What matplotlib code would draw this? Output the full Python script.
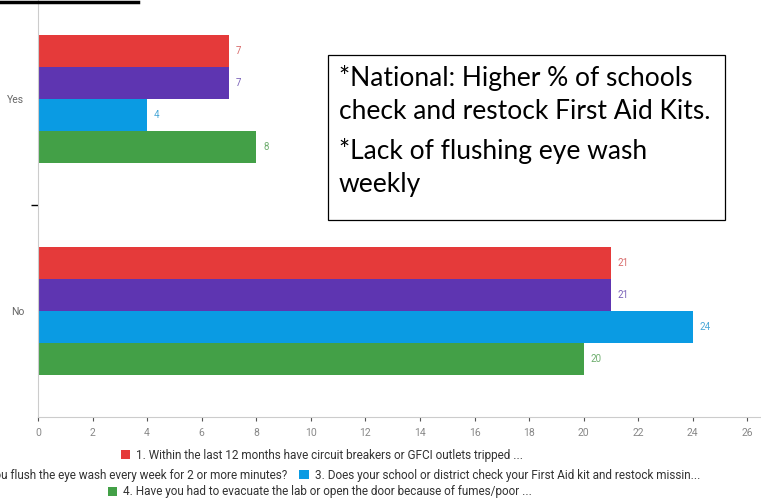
import matplotlib.pyplot as plt
from matplotlib.patches import Rectangle
from matplotlib.lines import Line2D

# data
categories = ["Yes", "No"]
series = [
    "1. Within the last 12 months have circuit breakers or GFCI outlets tripped ...",
    "2. Do you flush the eye wash every week for 2 or more minutes?",
    "3. Does your school or district check your First Aid kit and restock missin...",
    "4. Have you had to evacuate the lab or open the door because of fumes/poor ...",
]
values = [
    [7, 21],
    [7, 21],
    [4, 24],
    [8, 20],
]
colors = ["#e53a3a", "#5e35b1", "#0a9be3", "#43a047"]
label_colors = ["#d86a6a", "#7a62b8", "#4aa8d8", "#6fae6f"]
xticks = list(range(0, 27, 2))
note1 = "*National: Higher % of schools\ncheck and restock First Aid Kits."
note2 = "*Lack of flushing eye wash\nweekly"

plt.rcParams['font.family'] = ['Liberation Sans Narrow', 'Roboto', 'DejaVu Sans']

fig = plt.figure(figsize=(7.61, 5.0), dpi=100)
ax = fig.add_axes([38/761, 1 - 417/500, 1 - 38/761, 417/500])

centers = [1.5, 0.5]
h = 0.151
offs = [1.5, 0.5, -0.5, -1.5]
for i in range(4):
    ys = [c + offs[i]*h for c in centers]
    ax.barh(ys, values[i], height=h, color=colors[i], label=series[i])
    for y, v in zip(ys, values[i]):
        ax.text(v + 0.25, y, str(v), va='center', ha='left', fontsize=7, color=label_colors[i])

ax.set_xlim(0, 26.5)
ax.set_ylim(0, 1.967)
ax.set_xticks(xticks)
ax.set_xticklabels([str(t) for t in xticks], fontsize=7.5, color='#888888')
ax.tick_params(axis='x', length=3, width=0.8, color='#555555', pad=5)
ax.set_yticks(centers)
ax.set_yticklabels(categories, fontsize=7.5, color='#666666')
ax.tick_params(axis='y', length=0, pad=10)
ax.set_yticks([1.0], minor=True)
ax.tick_params(axis='y', which='minor', length=5, width=1, color='black')
for s in ['top', 'right']:
    ax.spines[s].set_visible(False)
ax.spines['left'].set_color('#cccccc')
ax.spines['bottom'].set_color('#cccccc')

# legend rows
handles, labels = ax.get_legend_handles_labels()
rows = [[0], [1, 2], [3]]
ypos = [455, 475, 492]
xcent = [322, 322, 320]
for r, yp, xc in zip(rows, ypos, xcent):
    fig.legend([handles[k] for k in r], [labels[k] for k in r], ncol=len(r),
               loc='center', bbox_to_anchor=(xc/761, 1 - yp/500), frameon=False,
               fontsize=8.5, handlelength=0.8, handleheight=0.8, handletextpad=0.5,
               columnspacing=1.0, borderpad=0, labelcolor='#333333')

# note box
fig.add_artist(Rectangle((328/761, 1 - 220/500), (725-328)/761, (220-55)/500,
                         transform=fig.transFigure, fill=False, edgecolor='black', lw=0.9))
fig.text(339/761, 1 - 65/500, note1, fontsize=19, family=['Lato', 'DejaVu Sans'],
         va='top', ha='left', linespacing=1.4)
fig.text(339/761, 1 - 138/500, note2, fontsize=19, family=['Lato', 'DejaVu Sans'],
         va='top', ha='left', linespacing=1.4)

# top header underline remnant
fig.add_artist(Line2D([0, 138/761], [1 - 1.5/500, 1 - 1.5/500], transform=fig.transFigure,
                      color='black', lw=2.5))

fig.savefig('out.png', dpi=100)
